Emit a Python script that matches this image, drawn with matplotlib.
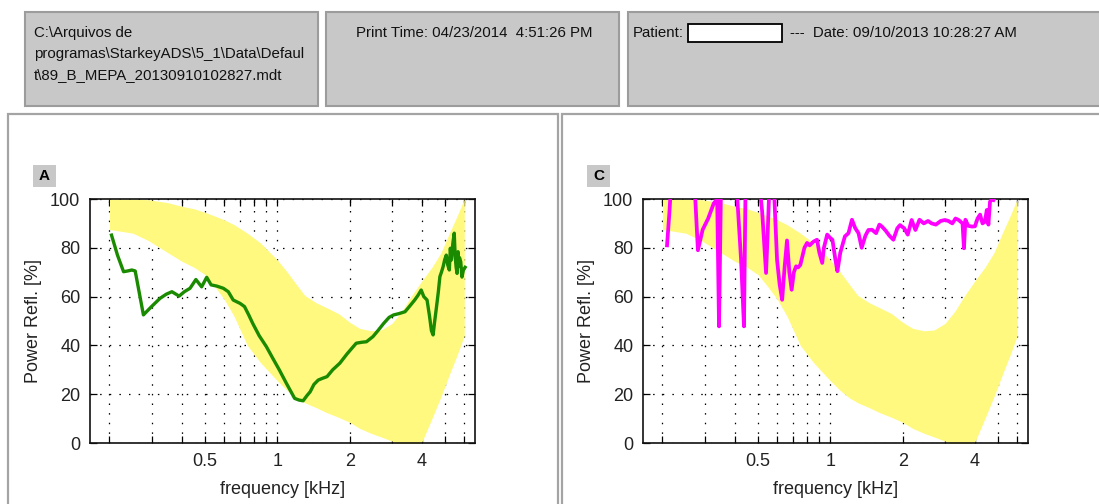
import matplotlib
matplotlib.use("Agg")
import matplotlib.pyplot as plt
from matplotlib.patches import Rectangle
from matplotlib.ticker import NullFormatter

plt.rcParams['font.family'] = ['Liberation Sans', 'DejaVu Sans']

# ---------------- data ----------------
band_f = [0.2, 0.25, 0.29, 0.35, 0.4, 0.45, 0.5, 0.55, 0.6, 0.66, 0.75, 0.85, 1.0, 1.1, 1.2, 1.3,
          1.45, 1.6, 1.8, 2.0, 2.2, 2.45, 2.7, 3.0, 3.3, 3.6, 4.0, 4.4, 4.8, 5.2, 5.6, 6.0]
band_upper = [100, 100, 99.7, 98.5, 97, 96, 94.5, 93, 91.5, 89.5, 86, 82, 75, 70, 65, 60.5,
              57.5, 55.5, 53, 49.5, 47, 46, 46.3, 49, 54, 60, 66.5, 72, 78, 86, 93, 100]
band_lower = [87.5, 86, 83, 78, 74.5, 72, 69, 64, 59, 52, 40, 33, 25.5, 21.5, 18.5, 16.5,
              14.5, 12.5, 10.5, 8.5, 6, 4, 2.5, 0.8, -1, -1.5, 0.5, 10, 19, 28, 36, 44]

green_f = [0.204, 0.216, 0.229, 0.238, 0.248, 0.256, 0.277, 0.30, 0.325, 0.345, 0.364, 0.39,
           0.41, 0.433, 0.458, 0.484, 0.508, 0.53, 0.56, 0.596, 0.625, 0.655, 0.7, 0.73, 0.76,
           0.79, 0.84, 0.9, 0.96, 1.02, 1.09, 1.14, 1.18, 1.23, 1.28, 1.33, 1.37, 1.42, 1.48,
           1.54, 1.61, 1.7, 1.82, 1.95, 2.05, 2.13, 2.25, 2.35, 2.5, 2.62, 2.77, 2.92, 3.05,
           3.2, 3.4, 3.55, 3.73, 3.85, 3.97, 4.07, 4.2, 4.3, 4.38, 4.45, 4.52, 4.6, 4.68, 4.75,
           4.82, 4.9, 4.97, 5.05, 5.12, 5.2, 5.25, 5.3, 5.38, 5.45, 5.5, 5.55, 5.6, 5.65, 5.7,
           5.73, 5.8, 5.87, 5.95, 6.05]
green_v = [85.2, 77, 70.2, 70.5, 70.9, 70.5, 52.5, 56, 59.3, 61, 62, 60.2,
           62, 63.4, 67, 64, 67.9, 64.8, 64.3, 63.4, 62, 58.6, 57.2, 55.9, 52.5,
           49, 44, 39.5, 34.5, 29.9, 24.5, 21, 18.3, 17.6, 17.3, 19.5, 21, 24, 25.8,
           26.5, 27.2, 30, 32.7, 36.5, 39, 40.9, 41.3, 41.5, 43.6, 46, 49, 51.5, 52.5,
           53, 53.8, 56, 58.6, 60.5, 62.7, 60, 58.6, 52, 46, 44.3, 50, 55.9, 62, 68.2,
           70, 72.3, 75, 77, 73, 70.9, 79.8, 75, 82, 86, 76.4, 72, 69.5, 78.4, 72.3,
           76, 74.3, 68, 70.9, 72]

magenta_f = [0.209, 0.214, 0.219, 0.245, 0.27, 0.274, 0.281, 0.294, 0.31, 0.327, 0.338, 0.344,
             0.350, 0.356, 0.38, 0.41, 0.425, 0.437, 0.443, 0.45, 0.46, 0.48, 0.5, 0.52, 0.54,
             0.548, 0.555, 0.57, 0.585, 0.6, 0.615, 0.63, 0.645, 0.66, 0.675, 0.69, 0.705,
             0.72, 0.735, 0.75, 0.78, 0.8, 0.82, 0.85, 0.88, 0.9, 0.925, 0.94, 0.97, 1.0,
             1.02, 1.05, 1.07, 1.1, 1.15, 1.19, 1.23, 1.27, 1.31, 1.35, 1.4, 1.44, 1.49,
             1.55, 1.6, 1.64, 1.7, 1.76, 1.83, 1.9, 1.95, 2.03, 2.1, 2.18, 2.26, 2.35, 2.45,
             2.55, 2.64, 2.75, 2.88, 3.0, 3.1, 3.22, 3.32, 3.42, 3.55, 3.6, 3.65, 3.75, 3.89,
             4.0, 4.1, 4.2, 4.3, 4.4, 4.48, 4.55, 4.62, 4.7, 4.78]
magenta_v = [81, 95, 112, 112, 112, 100, 79, 87.4, 92, 98.2, 100, 47.8,
             100, 112, 112, 100, 75, 47.8, 100, 112, 112, 112, 112, 95, 69.7,
             85, 100, 112, 100, 75, 65, 58.7, 72, 83, 70, 62.8, 70,
             72.4, 72, 73, 80, 82, 81, 82.5, 83.3, 78, 73.8, 80, 85.4, 84,
             83.3, 75, 70.4, 78, 84.7, 86, 91.5, 88, 86, 80, 85, 87.3, 87.4,
             86, 89.5, 88.7, 87, 85, 83.3, 88, 89.3, 88, 85.4, 91.4, 87.3, 91.5, 90,
             91, 90, 89.5, 91, 91.4, 91, 90, 92, 91.4, 90, 79.8, 91.5, 89, 88.7,
             88.8, 92, 93.6, 90, 90.7, 95.5, 89.5, 98.9, 100, 99.6]

x_major = [0.5, 1, 2, 4]
x_major_labels = ['0.5', '1', '2', '4']
x_minor = [0.2, 0.3, 0.4, 0.6, 0.7, 0.8, 0.9, 3, 5, 6]
y_ticks = [0, 20, 40, 60, 80, 100]

header_path = "C:\\Arquivos de\nprogramas\\StarkeyADS\\5_1\\Data\\Defaul\nt\\89_B_MEPA_20130910102827.mdt"
header_print = "Print Time: 04/23/2014  4:51:26 PM"
header_patient = "Patient:"
header_date = "---  Date: 09/10/2013 10:28:27 AM"
panel_labels = ['A', 'C']

# ---------------- figure ----------------
W, H = 1099, 504
fig = plt.figure(figsize=(W / 100, H / 100), dpi=100)
fig.patch.set_facecolor('white')

bg = fig.add_axes([0, 0, 1, 1])
bg.set_xlim(0, W)
bg.set_ylim(H, 0)
bg.axis('off')

box_fc = '#c8c8c8'
box_ec = '#9c9c9c'
for (x0, x1) in [(25, 318), (326, 619), (628, 1104)]:
    bg.add_patch(Rectangle((x0, 12), x1 - x0, 94, facecolor=box_fc, edgecolor=box_ec, lw=1.5))

hfs = 10.8
ty = 26
bg.text(34, ty, header_path, fontsize=hfs, va='top', ha='left', linespacing=1.62, color='#111111')
bg.text(474, ty, header_print, fontsize=hfs, va='top', ha='center', color='#111111')
bg.text(633, ty, header_patient, fontsize=hfs, va='top', ha='left', color='#111111')
bg.add_patch(Rectangle((688, 24), 94, 18, facecolor='white', edgecolor='black', lw=1.3))
bg.text(790, ty, header_date, fontsize=hfs, va='top', ha='left', color='#111111')

# panels
pan_ec = '#a4a4a4'
bg.add_patch(Rectangle((8, 114), 550, 400, facecolor='white', edgecolor=pan_ec, lw=1.6))
bg.add_patch(Rectangle((562, 114), 545, 400, facecolor='white', edgecolor=pan_ec, lw=1.6))

# panel labels
for (lx, lab) in [(33, panel_labels[0]), (587, panel_labels[1])]:
    bg.add_patch(Rectangle((lx, 165), 23, 22, facecolor=box_fc, edgecolor='none'))
    bg.text(lx + 11.5, 176.5, lab, fontsize=11, fontweight='bold', ha='center', va='center')

yellow = '#fff980'


def setup(ax):
    ax.set_xscale('log')
    ax.set_xlim(0.166, 6.65)
    ax.set_ylim(0, 100)
    ax.set_xticks(x_major)
    ax.set_xticklabels(x_major_labels)
    ax.set_xticks(x_minor, minor=True)
    ax.xaxis.set_minor_formatter(NullFormatter())
    ax.set_yticks(y_ticks)
    ax.set_axisbelow(True)
    ax.grid(True, which='both', axis='x', color='black', linestyle=(0, (1.2, 6.5)), lw=0.9)
    ax.grid(True, which='major', axis='y', color='black', linestyle=(0, (1.2, 6.5)), lw=0.9)
    ax.tick_params(which='both', direction='in', top=True, right=True, length=5, width=0.9,
                   labelsize=13, colors='black', labelcolor='#222222', pad=7)
    for s in ax.spines.values():
        s.set_linewidth(1.2)
        s.set_color('#111111')
    ax.set_xlabel('frequency [kHz]', fontsize=13, color='#222222', labelpad=8)
    ax.set_ylabel('Power Refl. [%]', fontsize=13, color='#222222', labelpad=6)
    ax.fill_between(band_f, band_lower, band_upper, color=yellow, lw=0, zorder=1)


axL = fig.add_axes([90 / W, (H - 443) / H, 385 / W, 244 / H])
setup(axL)
axL.plot(green_f, green_v, color='#1a8a00', lw=2.4, zorder=3)

axR = fig.add_axes([643 / W, (H - 443) / H, 385 / W, 244 / H])
setup(axR)
axR.plot(magenta_f, magenta_v, color='#ff00ff', lw=2.7, zorder=3)

fig.savefig('out.png', dpi=100)
